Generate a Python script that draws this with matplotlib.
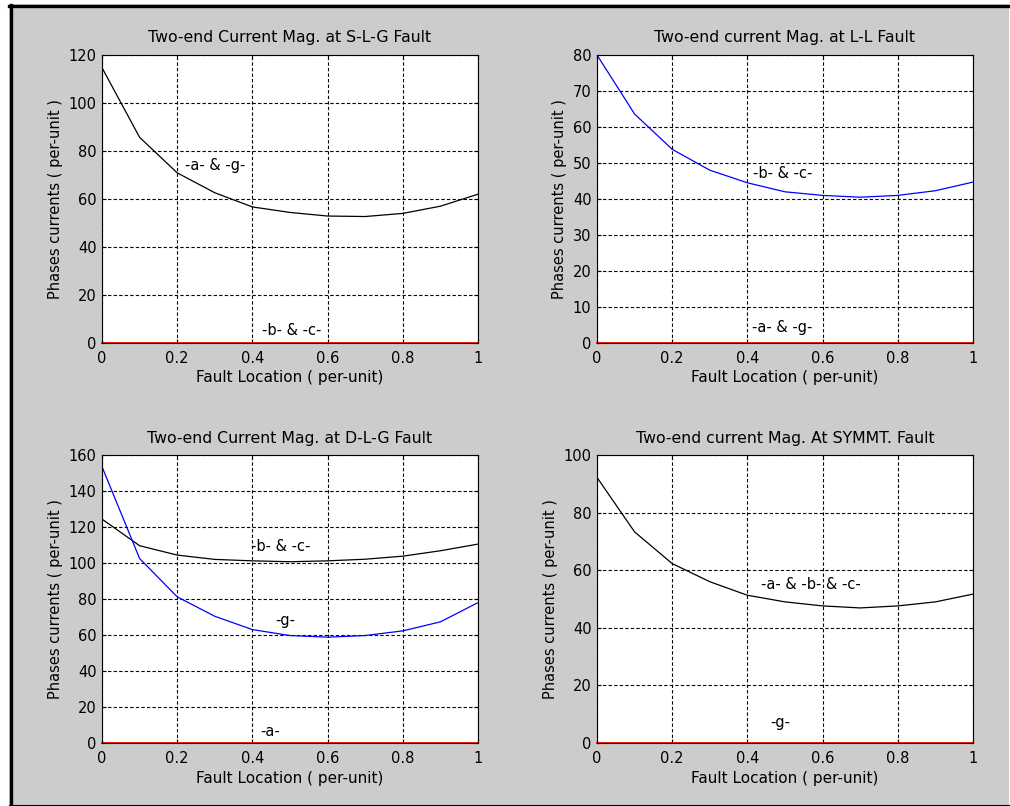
import matplotlib
matplotlib.use('Agg')
import matplotlib.pyplot as plt
from matplotlib.patches import Rectangle
from matplotlib.lines import Line2D

# Fault location samples (per-unit)
fault_loc = [0.0, 0.1, 0.2, 0.3, 0.4, 0.5, 0.6, 0.7, 0.8, 0.9, 1.0]
zeros = [0.0] * len(fault_loc)

# S-L-G fault: phase a and ground current
slg_ag = [114.7, 85.7, 70.9, 62.6, 56.7, 54.4, 52.9, 52.7, 54.0, 57.0, 62.0]
# L-L fault: phases b and c
ll_bc = [80.0, 63.6, 53.8, 48.0, 44.5, 42.0, 41.0, 40.5, 41.0, 42.3, 44.7]
# D-L-G fault: phases b and c, ground
dlg_bc = [124.4, 109.6, 104.4, 102.0, 101.2, 100.7, 101.2, 102.1, 103.8, 106.8, 110.5]
dlg_g = [153.5, 102.5, 81.2, 70.4, 63.0, 59.7, 58.8, 59.7, 62.3, 67.3, 78.0]
# Symmetrical fault: phases a, b and c
sym_abc = [92.2, 73.3, 62.3, 56.0, 51.3, 49.0, 47.6, 46.9, 47.6, 49.0, 51.7]

titles = ['Two-end Current Mag. at S-L-G Fault',
          'Two-end current Mag. at L-L Fault',
          'Two-end Current Mag. at D-L-G Fault',
          'Two-end current Mag. At SYMMT. Fault']
ylims = [120, 80, 160, 100]
ysteps = [20, 10, 20, 20]

W, H = 1010, 806
FS = 10.5
plt.rcParams['font.family'] = ['DejaVu Sans']
plt.rcParams['font.size'] = FS

fig = plt.figure(figsize=(W / 100, H / 100), dpi=100, facecolor='white')

# grey figure panel with black frame (thick on left/top, thin on bottom)
fig.add_artist(Rectangle((9 / W, 1 - 805 / H), 1000 / W, 801 / H,
                         transform=fig.transFigure, facecolor='#cccccc',
                         edgecolor='none', zorder=-10))
fig.add_artist(Line2D([10.5 / W, 10.5 / W], [1 - 5 / H, 1 - 805 / H],
                      transform=fig.transFigure, color='black', lw=2.4))
fig.add_artist(Line2D([9 / W, 1009 / W], [1 - 5.5 / H, 1 - 5.5 / H],
                      transform=fig.transFigure, color='black', lw=2.4))
fig.add_artist(Line2D([9 / W, 1009 / W], [1 - 804.5 / H, 1 - 804.5 / H],
                      transform=fig.transFigure, color='black', lw=0.8))

# axes boxes in pixels: left, top, right, bottom
boxes = [(102, 55, 478, 343), (597, 55, 973, 343),
         (102, 455, 478, 743), (597, 455, 973, 743)]

axes = []
for i, (l, t, r, b) in enumerate(boxes):
    ax = fig.add_axes([l / W, 1 - b / H, (r - l) / W, (b - t) / H])
    ax.set_facecolor('white')
    ax.set_xlim(0, 1)
    ax.set_ylim(0, ylims[i])
    ax.set_xticks([0, 0.2, 0.4, 0.6, 0.8, 1.0])
    ax.set_xticklabels(['0', '0.2', '0.4', '0.6', '0.8', '1'])
    ax.set_yticks(range(0, ylims[i] + 1, ysteps[i]))
    ax.grid(True, color='black', linestyle=(0, (3, 2)), linewidth=0.8)
    ax.tick_params(direction='in', length=3, width=0.8, top=True, right=True,
                   labelsize=FS)
    ax.tick_params(axis='x', pad=6)
    ax.tick_params(axis='y', pad=4)
    for s in ax.spines.values():
        s.set_linewidth(0.8)
    ax.set_title(titles[i], fontsize=11.3, pad=9)
    ax.set_xlabel('Fault Location ( per-unit)', fontsize=11, labelpad=3)
    ax.set_ylabel('Phases currents ( per-unit )', fontsize=FS, labelpad=4)
    axes.append(ax)

ax1, ax2, ax3, ax4 = axes

ax1.plot(fault_loc, slg_ag, color='black', lw=0.9)
ax1.plot(fault_loc, zeros, color='red', lw=1.3, clip_on=False)
ax1.text(0.221, 73.9, '-a- & -g-', va='center', ha='left')
ax1.text(0.425, 5.0, '-b- & -c-', va='center', ha='left')

ax2.plot(fault_loc, ll_bc, color='blue', lw=0.9)
ax2.plot(fault_loc, zeros, color='red', lw=1.3, clip_on=False)
ax2.text(0.415, 47.1, '-b- & -c-', va='center', ha='left')
ax2.text(0.412, 4.3, '-a- & -g-', va='center', ha='left')

ax3.plot(fault_loc, dlg_bc, color='black', lw=0.9)
ax3.plot(fault_loc, dlg_g, color='blue', lw=0.9)
ax3.plot(fault_loc, zeros, color='red', lw=1.3, clip_on=False)
ax3.text(0.396, 109.0, '-b- & -c-', va='center', ha='left')
ax3.text(0.46, 67.9, '-g-', va='center', ha='left')
ax3.text(0.42, 6.5, '-a-', va='center', ha='left')

ax4.plot(fault_loc, sym_abc, color='black', lw=0.9)
ax4.plot(fault_loc, zeros, color='red', lw=1.3, clip_on=False)
ax4.text(0.435, 55.0, '-a- & -b- & -c-', va='center', ha='left')
ax4.text(0.461, 7.1, '-g-', va='center', ha='left')

fig.savefig('out.png', dpi=100, facecolor='white')
